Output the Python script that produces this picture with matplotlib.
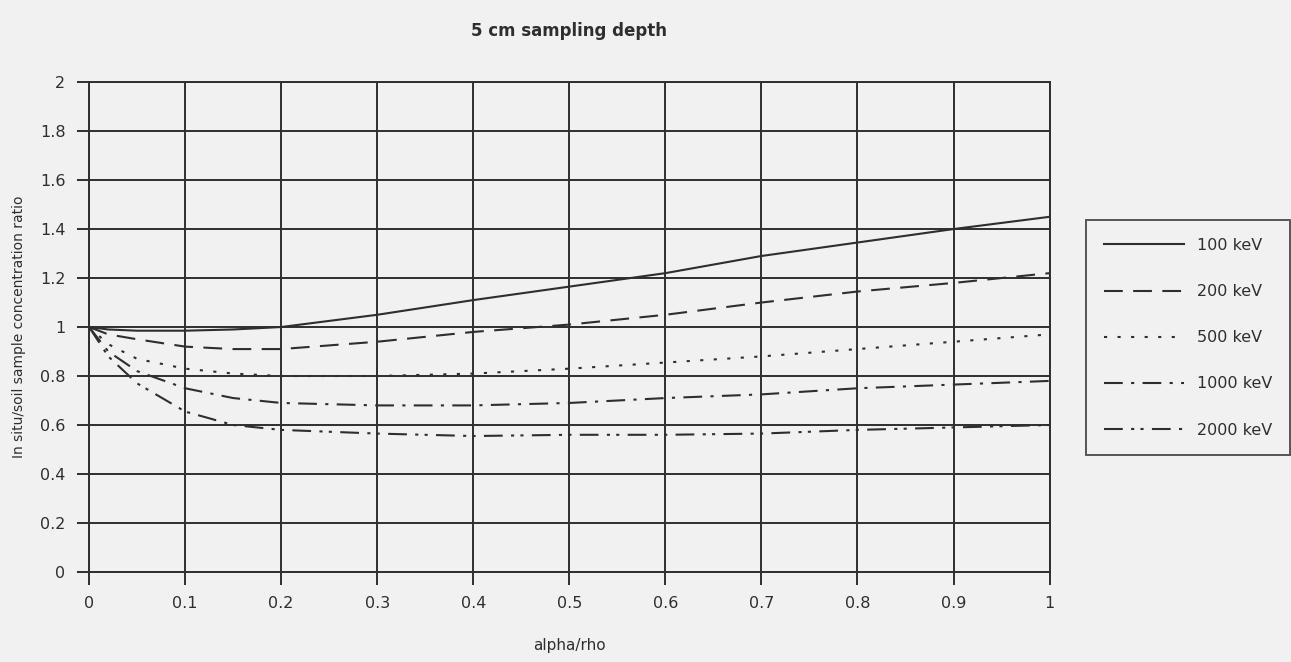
import matplotlib.pyplot as plt

# values
alpha_rho = [0, 0.02, 0.05, 0.1, 0.15, 0.2, 0.3, 0.4, 0.5, 0.6, 0.7, 0.8, 0.9, 1.0]
kev_100 = [1.0, 0.99, 0.985, 0.985, 0.99, 1.0, 1.05, 1.11, 1.165, 1.22, 1.29, 1.345, 1.40, 1.45]
kev_200 = [1.0, 0.97, 0.95, 0.92, 0.91, 0.91, 0.94, 0.98, 1.01, 1.05, 1.10, 1.145, 1.18, 1.22]
kev_500 = [1.0, 0.93, 0.87, 0.83, 0.81, 0.80, 0.80, 0.81, 0.83, 0.855, 0.88, 0.91, 0.94, 0.97]
kev_1000 = [1.0, 0.90, 0.82, 0.75, 0.71, 0.69, 0.68, 0.68, 0.69, 0.71, 0.725, 0.75, 0.765, 0.78]
kev_2000 = [1.0, 0.88, 0.77, 0.655, 0.60, 0.58, 0.565, 0.555, 0.56, 0.56, 0.565, 0.58, 0.59, 0.60]

labels = ['100 keV', '200 keV', '500 keV', '1000 keV', '2000 keV']
series = [kev_100, kev_200, kev_500, kev_1000, kev_2000]
styles = ['-', (0, (9, 5)), (0, (1.5, 5)), (0, (9, 4, 1.5, 4)), (0, (9, 4, 1.5, 3, 1.5, 4))]

xticks = [0, 0.1, 0.2, 0.3, 0.4, 0.5, 0.6, 0.7, 0.8, 0.9, 1]
xticklabels = ['0', '0.1', '0.2', '0.3', '0.4', '0.5', '0.6', '0.7', '0.8', '0.9', '1']
yticks = [0, 0.2, 0.4, 0.6, 0.8, 1.0, 1.2, 1.4, 1.6, 1.8, 2.0]
yticklabels = ['0', '0.2', '0.4', '0.6', '0.8', '1', '1.2', '1.4', '1.6', '1.8', '2']

ink = '#2e2e2e'
bg = '#f1f1f1'

fig = plt.figure(figsize=(12.91, 6.62), dpi=100, facecolor=bg)
ax = fig.add_axes([0.069, 0.136, 0.744, 0.740], facecolor=bg)

for vals, ls, lab in zip(series, styles, labels):
    ax.plot(alpha_rho, vals, color=ink, lw=1.5, linestyle=ls, label=lab)

ax.set_xlim(0, 1)
ax.set_ylim(0, 2)
ax.set_xticks(xticks)
ax.set_xticklabels(xticklabels)
ax.set_yticks(yticks)
ax.set_yticklabels(yticklabels)
ax.grid(True, color=ink, lw=1.4)
for sp in ax.spines.values():
    sp.set_color(ink)
    sp.set_linewidth(1.4)
ax.tick_params(colors=ink, length=9, width=1.4, labelsize=11.5, pad=8)

ax.set_xlabel('alpha/rho', fontsize=11, color=ink, labelpad=20)
ax.set_ylabel('In situ/soil sample concentration ratio', fontsize=10, color=ink, labelpad=10)
ax.set_title('5 cm sampling depth', fontsize=12, fontweight='bold', color=ink, pad=33)

leg = ax.legend(loc='center left', bbox_to_anchor=(1.03, 0.478), frameon=True,
                fancybox=False, edgecolor=ink, facecolor=bg, fontsize=11.5,
                handlelength=5.0, labelspacing=1.95, borderpad=1.1, handletextpad=0.8)
leg.get_frame().set_linewidth(1.4)
for t in leg.get_texts():
    t.set_color(ink)

fig.savefig('out.png', dpi=100, facecolor=bg)
